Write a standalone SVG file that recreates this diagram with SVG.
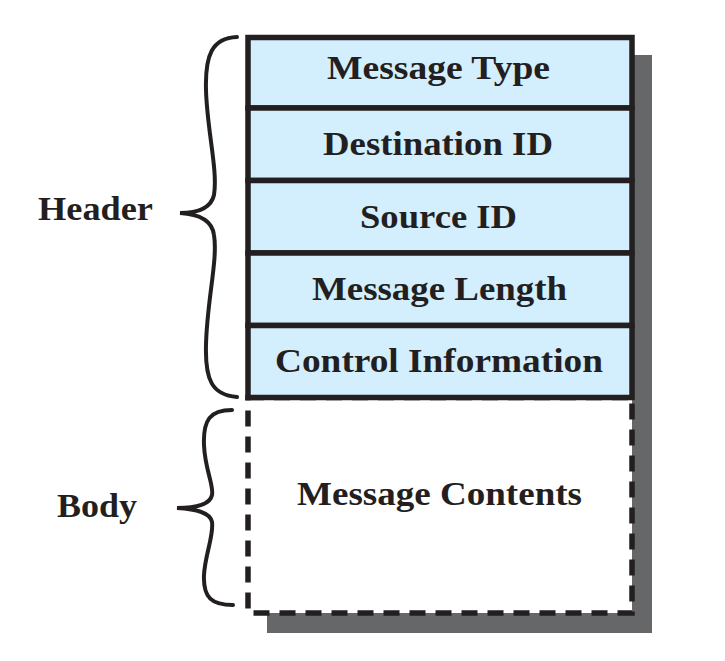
<svg xmlns="http://www.w3.org/2000/svg" width="725" height="661" viewBox="0 0 725 661">
<style>
.t{font-family:"Liberation Serif","Times New Roman",serif;font-weight:bold;font-size:33px;fill:#231f20}
.row{fill:#d3eefc;stroke:#231f20;stroke-width:5.5}
.brace{fill:none;stroke:#231f20;stroke-width:4;stroke-linecap:round}
</style>
<rect x="267" y="55" width="385" height="578" fill="#666769"/>
<g id="body">
<rect x="248" y="397.5" width="384" height="215.5" fill="#ffffff" stroke="#231f20" stroke-width="5.5" stroke-dasharray="16 10"/>
<text class="t" x="297" y="505" textLength="285" lengthAdjust="spacingAndGlyphs">Message Contents</text>
</g>
<g id="message-type">
<rect class="row" x="248" y="37.5" width="384" height="70.5"/>
<text class="t" x="327" y="79" textLength="223" lengthAdjust="spacingAndGlyphs">Message Type</text>
</g>
<g id="destination-id">
<rect class="row" x="248" y="108" width="384" height="72.5"/>
<text class="t" x="323" y="155" textLength="230" lengthAdjust="spacingAndGlyphs">Destination ID</text>
</g>
<g id="source-id">
<rect class="row" x="248" y="180.5" width="384" height="72.5"/>
<text class="t" x="360" y="228" textLength="157" lengthAdjust="spacingAndGlyphs">Source ID</text>
</g>
<g id="message-length">
<rect class="row" x="248" y="253" width="384" height="72.5"/>
<text class="t" x="312" y="300" textLength="255" lengthAdjust="spacingAndGlyphs">Message Length</text>
</g>
<g id="control-information">
<rect class="row" x="248" y="325.5" width="384" height="72"/>
<text class="t" x="275" y="372" textLength="328" lengthAdjust="spacingAndGlyphs">Control Information</text>
</g>
<g id="connectors">
<path class="brace" d="M 237 37 C 212 38 205 55 206 90 C 207 130 218 170 214 195 C 211 208 198 213 180 213 C 198 214 212 220 214 235 C 218 260 207 300 206 345 C 205 380 212 395 237 397"/>
<path class="brace" d="M 232 410 C 210 410 203 420 204 445 C 205 470 214 485 212 495 C 210 505 195 508 177 508 C 195 509 210 512 212 522 C 214 535 205 555 204 575 C 203 598 212 605 233 605"/>
</g>
<g id="header-label">
<text class="t" x="38" y="220" textLength="115" lengthAdjust="spacingAndGlyphs">Header</text>
</g>
<g id="body-label">
<text class="t" x="57" y="517" textLength="80" lengthAdjust="spacingAndGlyphs">Body</text>
</g>
</svg>
